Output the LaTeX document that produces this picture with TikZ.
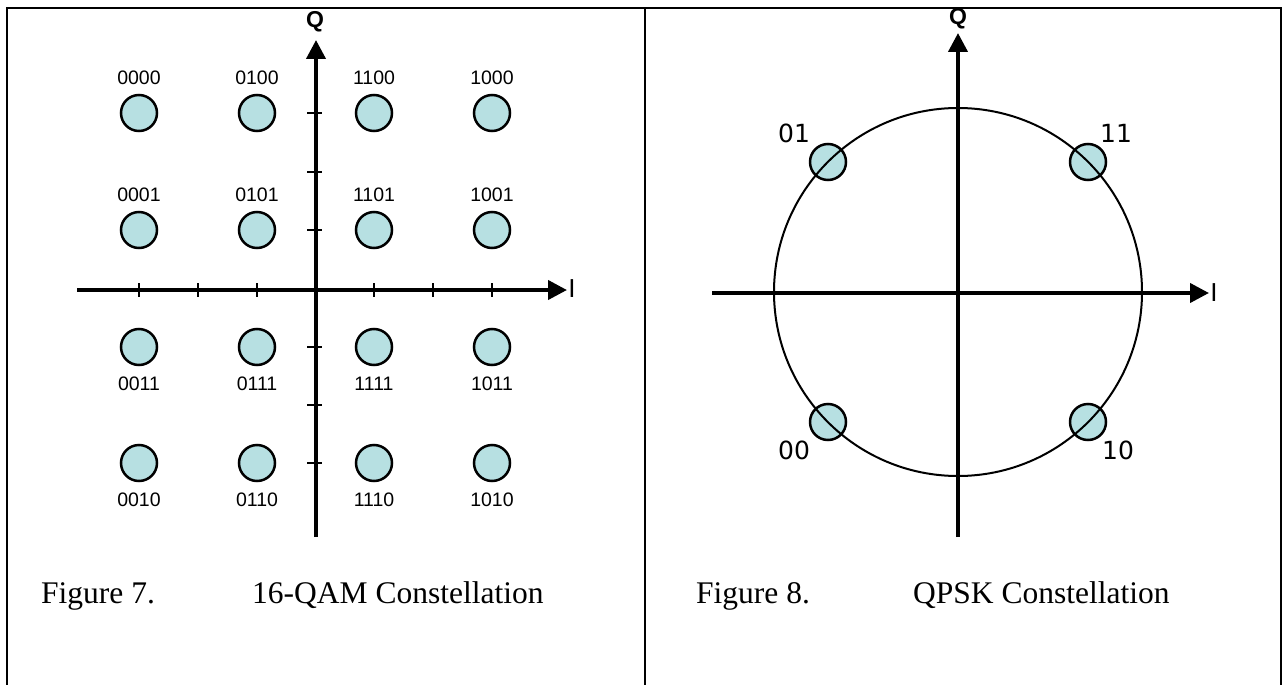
\documentclass[tikz,border=0pt]{standalone}
\usepackage{fontspec}
\setmainfont{Liberation Serif}
\setsansfont{Liberation Sans}
\newfontfamily\digitfont{DejaVu Sans}
\usetikzlibrary{arrows.meta,positioning}
\definecolor{dotfill}{RGB}{183,224,226}

\begin{document}
\begin{tikzpicture}[x=1pt,y=-1pt,
    axis/.style={line width=4pt, -{Triangle[length=19pt,width=19pt]}},
    axistick/.style={line width=2.5pt},
    frame/.style={line width=2.5pt},
    point/.style={circle, draw, line width=2.5pt, fill=dotfill, minimum size=36pt, inner sep=0pt},
    bits/.style={font=\sffamily\fontsize{19.5}{19.5}\selectfont, inner sep=0pt, text height=14pt, text depth=0pt},
    pskbits/.style={font=\digitfont\fontsize{25}{25}\selectfont, inner sep=0pt},
    qname/.style={font=\sffamily\bfseries\fontsize{23}{23}\selectfont, inner sep=0pt},
    iname/.style={font=\sffamily\fontsize{26}{26}\selectfont, inner sep=0pt},
    caption/.style={font=\fontsize{31.5}{38}\selectfont, inner sep=0pt, anchor=base west}]
    \useasboundingbox (0,0) rectangle (1285,685);
    % table frame
    \draw [frame] (7,685) -- (7,8) -- (1281,8) -- (1281,685);
    \draw [frame] (645,8) -- (645,685);

    % 16-QAM axes
    \coordinate (qamW) at (77,290);
    \coordinate (qamE) at (567,290);
    \coordinate (qamS) at (316,537);
    \coordinate (qamN) at (316,40);
    \draw [axis] (qamW) -- (qamE);
    \draw [axis] (qamS) -- (qamN);
    \node [iname] (qamI) at (572,289) {I};
    \node [qname] (qamQ) at (315,22) {Q};
    \draw [axistick] (139,283) -- (139,297);
    \draw [axistick] (198,283) -- (198,297);
    \draw [axistick] (257,283) -- (257,297);
    \draw [axistick] (374,283) -- (374,297);
    \draw [axistick] (433,283) -- (433,297);
    \draw [axistick] (492,283) -- (492,297);
    \draw [axistick] (307,113) -- (322,113);
    \draw [axistick] (307,172) -- (322,172);
    \draw [axistick] (307,230) -- (322,230);
    \draw [axistick] (307,347) -- (322,347);
    \draw [axistick] (307,405) -- (322,405);
    \draw [axistick] (307,463) -- (322,463);

    % 16-QAM points
    \node [point] (p0000) at (139,113) {};
    \node [point] (p0100) at (257,113) {};
    \node [point] (p1100) at (374,113) {};
    \node [point] (p1000) at (492,113) {};
    \node [point] (p0001) at (139,230) {};
    \node [point] (p0101) at (257,230) {};
    \node [point] (p1101) at (374,230) {};
    \node [point] (p1001) at (492,230) {};
    \node [point] (p0011) at (139,347) {};
    \node [point] (p0111) at (257,347) {};
    \node [point] (p1111) at (374,347) {};
    \node [point] (p1011) at (492,347) {};
    \node [point] (p0010) at (139,463) {};
    \node [point] (p0110) at (257,463) {};
    \node [point] (p1110) at (374,463) {};
    \node [point] (p1010) at (492,463) {};
    \node [bits, above=9pt of p0000] (l0000) {0000};
    \node [bits, above=9pt of p0100] (l0100) {0100};
    \node [bits, above=9pt of p1100] (l1100) {1100};
    \node [bits, above=9pt of p1000] (l1000) {1000};
    \node [bits, above=9pt of p0001] (l0001) {0001};
    \node [bits, above=9pt of p0101] (l0101) {0101};
    \node [bits, above=9pt of p1101] (l1101) {1101};
    \node [bits, above=9pt of p1001] (l1001) {1001};
    \node [bits, below=10pt of p0011] (l0011) {0011};
    \node [bits, below=10pt of p0111] (l0111) {0111};
    \node [bits, below=10pt of p1111] (l1111) {1111};
    \node [bits, below=10pt of p1011] (l1011) {1011};
    \node [bits, below=10pt of p0010] (l0010) {0010};
    \node [bits, below=10pt of p0110] (l0110) {0110};
    \node [bits, below=10pt of p1110] (l1110) {1110};
    \node [bits, below=10pt of p1010] (l1010) {1010};

    % QPSK axes, points and ring
    \coordinate (pskW) at (712,293);
    \coordinate (pskE) at (1209,293);
    \coordinate (pskS) at (958,537);
    \coordinate (pskN) at (958,33);
    \draw [axis] (pskW) -- (pskE);
    \draw [axis] (pskS) -- (pskN);
    \node [iname] (pskI) at (1214,293) {I};
    \node [qname] (pskQ) at (958,19) {Q};
    \node [point] (q01) at (828,162) {};
    \node [point] (q11) at (1088,162) {};
    \node [point] (q00) at (828,422) {};
    \node [point] (q10) at (1088,422) {};
    \node [draw, circle, line width=2pt, minimum size=368pt, inner sep=0pt] (ring) at (958,292) {};
    \node [pskbits] (l01) at (794,133) {01};
    \node [pskbits] (l11) at (1116,133) {11};
    \node [pskbits] (l00) at (794,450) {00};
    \node [pskbits] (l10) at (1118,450) {10};

    % captions
    \node [caption] (fig7) at (41,603) {Figure 7.};
    \node [caption] (cap7) at (252,603) {16-QAM Constellation};
    \node [caption] (fig8) at (696,603) {Figure 8.};
    \node [caption] (cap8) at (913,603) {QPSK Constellation};
\end{tikzpicture}
\end{document}
